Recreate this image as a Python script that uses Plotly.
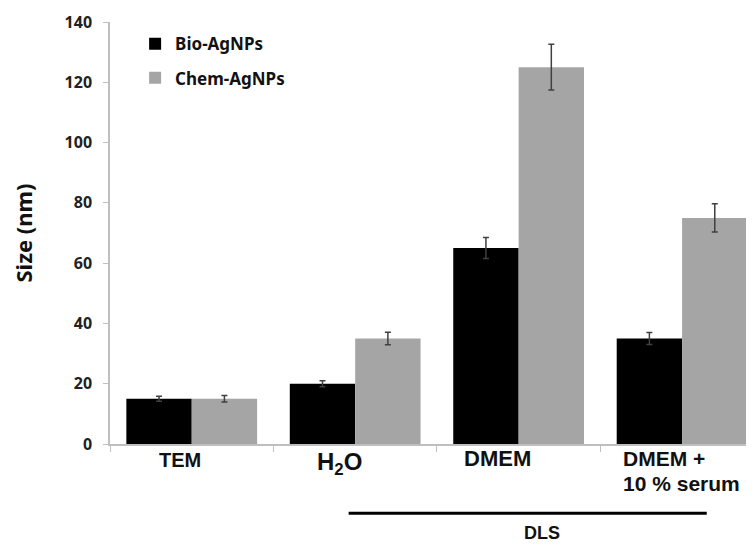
import plotly.graph_objects as go

categories = ["TEM", "H2O", "DMEM", "DMEM + 10 % serum"]
cat_labels = ["TEM", "H<sub>2</sub>O", "DMEM", "DMEM +<br>10 % serum"]
bio = [15, 20, 65, 35]
bio_err = [0.8, 1.0, 3.5, 2.0]
chem = [15, 35, 125, 75]
chem_err = [1.1, 2.1, 7.6, 4.7]
y_ticks = [0, 20, 40, 60, 80, 100, 120, 140]

num_font = "Noto Sans"
lab_font = "Liberation Sans"

fig = go.Figure()
fig.add_trace(go.Bar(
    x=categories, y=bio, name="Bio-AgNPs", legendgroup="a",
    marker=dict(color="#000000", line=dict(width=0)),
    error_y=dict(type="data", array=bio_err, color="#404040", thickness=1.5, width=3),
))
fig.add_trace(go.Bar(
    x=categories, y=chem, name="Chem-AgNPs", legendgroup="b",
    marker=dict(color="#a5a5a5", line=dict(width=0)),
    error_y=dict(type="data", array=chem_err, color="#404040", thickness=1.5, width=3),
))

fig.update_layout(
    width=746, height=537,
    margin=dict(l=102, r=0, t=14, b=101),
    paper_bgcolor="white", plot_bgcolor="white",
    barmode="group", bargap=0.2, bargroupgap=0,
    showlegend=True,
    legend=dict(x=0.039, y=0.99, xanchor="left", yanchor="top",
                font=dict(family=num_font, size=17, color="#111111", weight="bold"),
                traceorder="grouped", tracegroupgap=9,
                bgcolor="rgba(0,0,0,0)", itemwidth=30),
    font=dict(family=num_font, color="#222222"),
)

fig.update_xaxes(
    range=[-0.5, 3.44], showline=True, linecolor="#bfbfbf", linewidth=1.5,
    ticks="outside", tickson="boundaries", ticklen=6, tickcolor="#bfbfbf",
    showticklabels=False, showgrid=False, zeroline=False,
)
fig.update_yaxes(
    range=[0, 140], tickvals=y_ticks, showline=True, linecolor="#bfbfbf", linewidth=1.5,
    ticks="outside", ticklen=5, tickcolor="#bfbfbf", showgrid=False, zeroline=False,
    ticklabelstandoff=8,
    tickfont=dict(family=num_font, size=16, color="#222222", weight="bold"),
    title=dict(text="Size (nm)", font=dict(family=num_font, size=22, color="#111111", weight="bold"),
               standoff=28),
)

bold = lambda s: "<b>" + s + "</b>"
fig.add_annotation(x=categories[0], y=0, xref="x", yref="paper", yshift=-16, xshift=-12,
                   text=bold(cat_labels[0]), showarrow=False, yanchor="middle",
                   font=dict(family=lab_font, size=20, color="#111111"))
fig.add_annotation(x=categories[1], y=0, xref="x", yref="paper", yshift=-19, xshift=-16,
                   text=bold(cat_labels[1]), showarrow=False, yanchor="middle",
                   font=dict(family=lab_font, size=24, color="#111111"))
fig.add_annotation(x=categories[2], y=0, xref="x", yref="paper", yshift=-14, xshift=-21,
                   text=bold(cat_labels[2]), showarrow=False, yanchor="middle",
                   font=dict(family=lab_font, size=22, color="#111111"))
serum_lines = cat_labels[3].split("<br>")
fig.add_annotation(x=categories[3], y=0, xref="x", yref="paper", yshift=-14, xshift=-61,
                   text=bold(serum_lines[0]), showarrow=False, yanchor="middle", xanchor="left",
                   font=dict(family=lab_font, size=21, color="#111111"))
fig.add_annotation(x=categories[3], y=0, xref="x", yref="paper", yshift=-39, xshift=-61,
                   text=bold(serum_lines[1]), showarrow=False, yanchor="middle", xanchor="left",
                   font=dict(family=lab_font, size=21, color="#111111"))

# DLS bracket
fig.add_shape(type="line", xref="x", yref="paper", x0=0.96, x1=3.151, y0=-0.164, y1=-0.164,
              line=dict(color="#000000", width=3))
fig.add_annotation(x=2.142, y=-0.212, xref="x", yref="paper", text="<b>DLS</b>", showarrow=False,
                   yanchor="middle", font=dict(family=lab_font, size=18, color="#111111"))

fig.write_html("out.html")
